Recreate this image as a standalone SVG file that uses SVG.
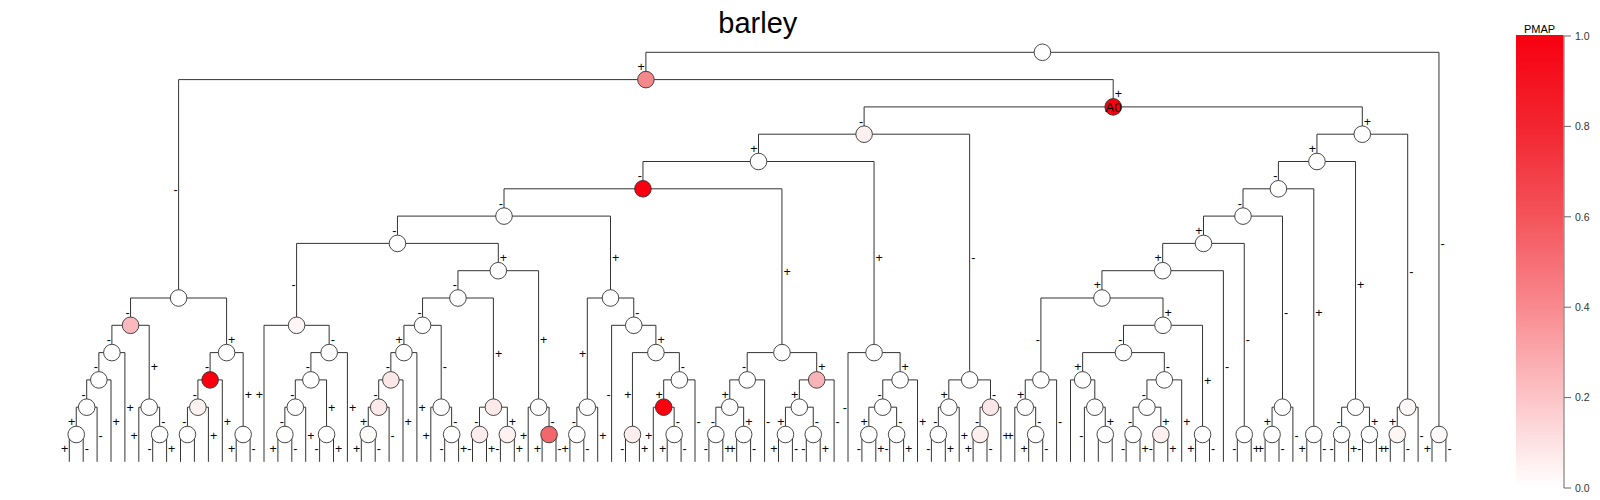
<svg xmlns="http://www.w3.org/2000/svg" width="1600" height="500" viewBox="0 0 1600 500">
<defs>
<linearGradient id="pmap" x1="0" y1="1" x2="0" y2="0">
<stop offset="0" stop-color="#FFFFFF"/>
<stop offset="0.2" stop-color="#FCC3C6"/>
<stop offset="0.4" stop-color="#F8898E"/>
<stop offset="0.6" stop-color="#F4535A"/>
<stop offset="0.8" stop-color="#F22530"/>
<stop offset="1" stop-color="#F80010"/>
</linearGradient>
<style>
.e{fill:none;stroke:#333;stroke-width:1}
circle{stroke:#333;stroke-width:0.9;fill:#FFFFFF}
.lab{opacity:0.99}
.lab text{font-family:"Liberation Sans",Arial,sans-serif;font-size:12.5px;fill:#000}
.l{text-anchor:end}
.r{text-anchor:start}
.red{fill:#F80010}
.ax{stroke:#666;stroke-width:1;fill:none}
.tk{font-family:"Liberation Sans",Arial,sans-serif;font-size:10.5px;fill:#333}
</style>
</defs>
<rect width="1600" height="500" fill="#FFFFFF"/>
<text x="757.8" y="33.3" text-anchor="middle" font-family="Liberation Sans, Arial, sans-serif" font-size="29" fill="#000">barley</text>
<g id="connectors">
<path class="e" d="M645.9 79.6V52.3H1438.95V434.5"/>
<path class="e" d="M178.6 298V79.6H1113.2V106.9"/>
<path class="e" d="M864.1 134.2V106.9H1362.3V134.2"/>
<path class="e" d="M758.5 161.5V134.2H969.65V379.9"/>
<path class="e" d="M642.95 188.8V161.5H874.05V352.6"/>
<path class="e" d="M504 216.1V188.8H781.95V352.6"/>
<path class="e" d="M397.45 243.4V216.1H610.5V298"/>
<path class="e" d="M296.6 325.3V243.4H498.3V270.7"/>
<path class="e" d="M457.95 298V270.7H538.6V407.2"/>
<path class="e" d="M422.55 325.3V298H493.4V407.2"/>
<path class="e" d="M403.9 352.6V325.3H441.2V407.2"/>
<path class="e" d="M390.85 379.9V352.6H416.9V461.8"/>
<path class="e" d="M378.7 407.2V379.9H403V461.8"/>
<path class="e" d="M368.25 434.5V407.2H389.1V461.8"/>
<path class="e" d="M361.3 461.8V434.5H375.2V461.8"/>
<path class="e" d="M430.8 461.8V407.2H451.65V434.5"/>
<path class="e" d="M444.7 461.8V434.5H458.6V461.8"/>
<path class="e" d="M479.5 434.5V407.2H507.35V434.5"/>
<path class="e" d="M472.5 461.8V434.5H486.5V461.8"/>
<path class="e" d="M500.4 461.8V434.5H514.3V461.8"/>
<path class="e" d="M528.2 461.8V407.2H549.05V434.5"/>
<path class="e" d="M542.1 461.8V434.5H556V461.8"/>
<path class="e" d="M264 461.8V325.3H329.15V352.6"/>
<path class="e" d="M310.9 379.9V352.6H347.4V461.8"/>
<path class="e" d="M295.3 407.2V379.9H326.55V434.5"/>
<path class="e" d="M284.85 434.5V407.2H305.7V461.8"/>
<path class="e" d="M277.9 461.8V434.5H291.8V461.8"/>
<path class="e" d="M319.6 461.8V434.5H333.5V461.8"/>
<path class="e" d="M587.3 407.2V298H633.75V325.3"/>
<path class="e" d="M576.85 434.5V407.2H597.7V461.8"/>
<path class="e" d="M569.9 461.8V434.5H583.8V461.8"/>
<path class="e" d="M611.6 461.8V325.3H655.9V352.6"/>
<path class="e" d="M632.45 434.5V352.6H679.35V379.9"/>
<path class="e" d="M625.5 461.8V434.5H639.4V461.8"/>
<path class="e" d="M663.7 407.2V379.9H695V461.8"/>
<path class="e" d="M653.3 461.8V407.2H674.15V434.5"/>
<path class="e" d="M667.2 461.8V434.5H681.1V461.8"/>
<path class="e" d="M747.2 379.9V352.6H816.7V379.9"/>
<path class="e" d="M729.75 407.2V379.9H764.6V461.8"/>
<path class="e" d="M715.85 434.5V407.2H743.65V434.5"/>
<path class="e" d="M708.9 461.8V434.5H722.8V461.8"/>
<path class="e" d="M736.7 461.8V434.5H750.6V461.8"/>
<path class="e" d="M799.35 407.2V379.9H834.1V461.8"/>
<path class="e" d="M785.45 434.5V407.2H813.25V434.5"/>
<path class="e" d="M778.5 461.8V434.5H792.4V461.8"/>
<path class="e" d="M806.3 461.8V434.5H820.2V461.8"/>
<path class="e" d="M848 461.8V352.6H900.1V379.9"/>
<path class="e" d="M882.75 407.2V379.9H917.5V461.8"/>
<path class="e" d="M868.85 434.5V407.2H896.65V434.5"/>
<path class="e" d="M861.9 461.8V434.5H875.8V461.8"/>
<path class="e" d="M889.7 461.8V434.5H903.6V461.8"/>
<path class="e" d="M948.8 407.2V379.9H990.5V407.2"/>
<path class="e" d="M938.35 434.5V407.2H959.2V461.8"/>
<path class="e" d="M931.4 461.8V434.5H945.3V461.8"/>
<path class="e" d="M980.05 434.5V407.2H1000.9V461.8"/>
<path class="e" d="M973.1 461.8V434.5H987V461.8"/>
<path class="e" d="M130.55 325.3V298H226.6V352.6"/>
<path class="e" d="M111.9 352.6V325.3H149.2V407.2"/>
<path class="e" d="M98.85 379.9V352.6H124.9V461.8"/>
<path class="e" d="M86.7 407.2V379.9H111V461.8"/>
<path class="e" d="M76.25 434.5V407.2H97.1V461.8"/>
<path class="e" d="M69.3 461.8V434.5H83.2V461.8"/>
<path class="e" d="M138.8 461.8V407.2H159.65V434.5"/>
<path class="e" d="M152.7 461.8V434.5H166.6V461.8"/>
<path class="e" d="M210.1 379.9V352.6H243.15V434.5"/>
<path class="e" d="M197.9 407.2V379.9H222.3V461.8"/>
<path class="e" d="M187.45 434.5V407.2H208.4V461.8"/>
<path class="e" d="M180.5 461.8V434.5H194.4V461.8"/>
<path class="e" d="M236.2 461.8V434.5H250.1V461.8"/>
<path class="e" d="M1316.95 161.5V134.2H1407.7V407.2"/>
<path class="e" d="M1278.4 188.8V161.5H1355.55V407.2"/>
<path class="e" d="M1243 216.1V188.8H1313.8V434.5"/>
<path class="e" d="M1203.5 243.4V216.1H1282.5V407.2"/>
<path class="e" d="M1162.7 270.7V243.4H1244.25V434.5"/>
<path class="e" d="M1101.95 298V270.7H1223.4V461.8"/>
<path class="e" d="M1040.9 379.9V298H1163V325.3"/>
<path class="e" d="M1025.25 407.2V379.9H1056.6V461.8"/>
<path class="e" d="M1014.8 461.8V407.2H1035.7V434.5"/>
<path class="e" d="M1028.7 461.8V434.5H1042.7V461.8"/>
<path class="e" d="M1123.5 352.6V325.3H1202.55V434.5"/>
<path class="e" d="M1195.6 461.8V434.5H1209.5V461.8"/>
<path class="e" d="M1082.65 379.9V352.6H1164.3V379.9"/>
<path class="e" d="M1070.5 461.8V379.9H1094.8V407.2"/>
<path class="e" d="M1084.4 461.8V407.2H1105.25V434.5"/>
<path class="e" d="M1098.3 461.8V434.5H1112.2V461.8"/>
<path class="e" d="M1146.95 407.2V379.9H1181.7V461.8"/>
<path class="e" d="M1133.05 434.5V407.2H1160.85V434.5"/>
<path class="e" d="M1126.1 461.8V434.5H1140V461.8"/>
<path class="e" d="M1153.9 461.8V434.5H1167.8V461.8"/>
<path class="e" d="M1237.3 461.8V434.5H1251.2V461.8"/>
<path class="e" d="M1272.05 434.5V407.2H1292.9V461.8"/>
<path class="e" d="M1265.1 461.8V434.5H1279V461.8"/>
<path class="e" d="M1306.8 461.8V434.5H1320.8V461.8"/>
<path class="e" d="M1341.65 434.5V407.2H1369.45V434.5"/>
<path class="e" d="M1334.7 461.8V434.5H1348.6V461.8"/>
<path class="e" d="M1362.5 461.8V434.5H1376.4V461.8"/>
<path class="e" d="M1397.25 434.5V407.2H1418.1V461.8"/>
<path class="e" d="M1390.3 461.8V434.5H1404.2V461.8"/>
<path class="e" d="M1432 461.8V434.5H1445.9V461.8"/>
</g>
<g id="edge-labels" class="lab">
<text class="l" x="644.9" y="71">+</text><text class="r" x="1440.45" y="248.4">-</text>
<text class="l" x="177.6" y="193.8">-</text><text class="r" x="1114.7" y="98.3">+</text>
<text class="l" x="863.1" y="125.6">-</text><text class="r" x="1363.8" y="125.6">+</text>
<text class="l" x="757.5" y="152.9">+</text><text class="r" x="971.15" y="262.1">-</text>
<text class="l" x="641.95" y="180.2">-</text><text class="r" x="875.55" y="262.1">+</text>
<text class="l" x="503" y="207.5">-</text><text class="r" x="783.45" y="275.7">+</text>
<text class="l" x="396.45" y="234.8">-</text><text class="r" x="612" y="262.1">+</text>
<text class="l" x="295.6" y="289.4">-</text><text class="r" x="499.8" y="262.1">+</text>
<text class="l" x="456.95" y="289.4">-</text><text class="r" x="540.1" y="344">+</text>
<text class="l" x="421.55" y="316.7">-</text><text class="r" x="494.9" y="357.6">+</text>
<text class="l" x="402.9" y="344">+</text><text class="r" x="442.7" y="371.3">-</text>
<text class="l" x="389.85" y="371.3">-</text><text class="r" x="418.4" y="412.2">+</text>
<text class="l" x="377.7" y="398.6">-</text><text class="r" x="404.5" y="425.9">+</text>
<text class="l" x="367.25" y="425.9">+</text><text class="r" x="390.6" y="439.5">-</text>
<text class="l" x="360.3" y="453.2">+</text><text class="r" x="376.7" y="453.2">-</text>
<text class="l" x="429.8" y="439.5">+</text><text class="r" x="453.15" y="425.9">-</text>
<text class="l" x="443.7" y="453.2">-</text><text class="r" x="460.1" y="453.2">+</text>
<text class="l" x="478.5" y="425.9">-</text><text class="r" x="508.85" y="425.9">+</text>
<text class="l" x="471.5" y="453.2">-</text><text class="r" x="488" y="453.2">+</text>
<text class="l" x="499.4" y="453.2">-</text><text class="r" x="515.8" y="453.2">+</text>
<text class="l" x="527.2" y="439.5">+</text><text class="r" x="550.55" y="425.9">-</text>
<text class="l" x="541.1" y="453.2">+</text><text class="r" x="557.5" y="453.2">-</text>
<text class="l" x="263" y="398.6">+</text><text class="r" x="330.65" y="344">-</text>
<text class="l" x="309.9" y="371.3">-</text><text class="r" x="348.9" y="412.2">+</text>
<text class="l" x="294.3" y="398.6">-</text><text class="r" x="328.05" y="412.2">+</text>
<text class="l" x="283.85" y="425.9">-</text><text class="r" x="307.2" y="439.5">+</text>
<text class="l" x="276.9" y="453.2">+</text><text class="r" x="293.3" y="453.2">-</text>
<text class="l" x="318.6" y="453.2">-</text><text class="r" x="335" y="453.2">+</text>
<text class="l" x="586.3" y="357.6">+</text><text class="r" x="635.25" y="316.7">-</text>
<text class="l" x="575.85" y="425.9">-</text><text class="r" x="599.2" y="439.5">+</text>
<text class="l" x="568.9" y="453.2">+</text><text class="r" x="585.3" y="453.2">-</text>
<text class="l" x="610.6" y="398.6">-</text><text class="r" x="657.4" y="344">+</text>
<text class="l" x="631.45" y="398.6">+</text><text class="r" x="680.85" y="371.3">-</text>
<text class="l" x="624.5" y="453.2">-</text><text class="r" x="640.9" y="453.2">+</text>
<text class="l" x="662.7" y="398.6">+</text><text class="r" x="696.5" y="425.9">-</text>
<text class="l" x="652.3" y="439.5">+</text><text class="r" x="675.65" y="425.9">-</text>
<text class="l" x="666.2" y="453.2">+</text><text class="r" x="682.6" y="453.2">-</text>
<text class="l" x="746.2" y="371.3">-</text><text class="r" x="818.2" y="371.3">+</text>
<text class="l" x="728.75" y="398.6">+</text><text class="r" x="766.1" y="425.9">-</text>
<text class="l" x="714.85" y="425.9">-</text><text class="r" x="745.15" y="425.9">+</text>
<text class="l" x="707.9" y="453.2">-</text><text class="r" x="724.3" y="453.2">+</text>
<text class="l" x="735.7" y="453.2">+</text><text class="r" x="752.1" y="453.2">-</text>
<text class="l" x="798.35" y="398.6">+</text><text class="r" x="835.6" y="425.9">-</text>
<text class="l" x="784.45" y="425.9">+</text><text class="r" x="814.75" y="425.9">-</text>
<text class="l" x="777.5" y="453.2">+</text><text class="r" x="793.9" y="453.2">-</text>
<text class="l" x="805.3" y="453.2">-</text><text class="r" x="821.7" y="453.2">+</text>
<text class="l" x="847" y="412.2">-</text><text class="r" x="901.6" y="371.3">+</text>
<text class="l" x="881.75" y="398.6">-</text><text class="r" x="919" y="425.9">+</text>
<text class="l" x="867.85" y="425.9">+</text><text class="r" x="898.15" y="425.9">-</text>
<text class="l" x="860.9" y="453.2">-</text><text class="r" x="877.3" y="453.2">+</text>
<text class="l" x="888.7" y="453.2">-</text><text class="r" x="905.1" y="453.2">+</text>
<text class="l" x="947.8" y="398.6">+</text><text class="r" x="992" y="398.6">-</text>
<text class="l" x="937.35" y="425.9">-</text><text class="r" x="960.7" y="439.5">+</text>
<text class="l" x="930.4" y="453.2">-</text><text class="r" x="946.8" y="453.2">+</text>
<text class="l" x="979.05" y="425.9">-</text><text class="r" x="1002.4" y="439.5">+</text>
<text class="l" x="972.1" y="453.2">+</text><text class="r" x="988.5" y="453.2">-</text>
<text class="l" x="129.55" y="316.7">-</text><text class="r" x="228.1" y="344">+</text>
<text class="l" x="110.9" y="344">-</text><text class="r" x="150.7" y="371.3">+</text>
<text class="l" x="97.85" y="371.3">-</text><text class="r" x="126.4" y="412.2">+</text>
<text class="l" x="85.7" y="398.6">-</text><text class="r" x="112.5" y="425.9">+</text>
<text class="l" x="75.25" y="425.9">+</text><text class="r" x="98.6" y="439.5">-</text>
<text class="l" x="68.3" y="453.2">+</text><text class="r" x="84.7" y="453.2">-</text>
<text class="l" x="137.8" y="439.5">+</text><text class="r" x="161.15" y="425.9">-</text>
<text class="l" x="151.7" y="453.2">-</text><text class="r" x="168.1" y="453.2">+</text>
<text class="l" x="209.1" y="371.3">-</text><text class="r" x="244.65" y="398.6">+</text>
<text class="l" x="196.9" y="398.6">-</text><text class="r" x="223.8" y="425.9">+</text>
<text class="l" x="186.45" y="425.9">-</text><text class="r" x="209.9" y="439.5">+</text>
<text class="l" x="235.2" y="453.2">+</text><text class="r" x="251.6" y="453.2">-</text>
<text class="l" x="1315.95" y="152.9">+</text><text class="r" x="1409.2" y="275.7">-</text>
<text class="l" x="1277.4" y="180.2">-</text><text class="r" x="1357.05" y="289.4">+</text>
<text class="l" x="1242" y="207.5">-</text><text class="r" x="1315.3" y="316.7">+</text>
<text class="l" x="1202.5" y="234.8">+</text><text class="r" x="1284" y="316.7">-</text>
<text class="l" x="1161.7" y="262.1">+</text><text class="r" x="1245.75" y="344">-</text>
<text class="l" x="1100.95" y="289.4">+</text><text class="r" x="1224.9" y="371.3">-</text>
<text class="l" x="1039.9" y="344">-</text><text class="r" x="1164.5" y="316.7">+</text>
<text class="l" x="1024.25" y="398.6">+</text><text class="r" x="1058.1" y="425.9">-</text>
<text class="l" x="1013.8" y="439.5">+</text><text class="r" x="1037.2" y="425.9">-</text>
<text class="l" x="1027.7" y="453.2">+</text><text class="r" x="1044.2" y="453.2">-</text>
<text class="l" x="1122.5" y="344">-</text><text class="r" x="1204.05" y="384.9">+</text>
<text class="l" x="1194.6" y="453.2">+</text><text class="r" x="1211" y="453.2">-</text>
<text class="l" x="1081.65" y="371.3">+</text><text class="r" x="1165.8" y="371.3">-</text>
<text class="l" x="1083.4" y="439.5">-</text><text class="r" x="1106.75" y="425.9">+</text>
<text class="l" x="1145.95" y="398.6">-</text><text class="r" x="1183.2" y="425.9">+</text>
<text class="l" x="1132.05" y="425.9">-</text><text class="r" x="1162.35" y="425.9">+</text>
<text class="l" x="1125.1" y="453.2">-</text><text class="r" x="1141.5" y="453.2">+</text>
<text class="l" x="1152.9" y="453.2">-</text><text class="r" x="1169.3" y="453.2">+</text>
<text class="l" x="1236.3" y="453.2">-</text><text class="r" x="1252.7" y="453.2">+</text>
<text class="l" x="1271.05" y="425.9">+</text><text class="r" x="1294.4" y="439.5">-</text>
<text class="l" x="1264.1" y="453.2">+</text><text class="r" x="1280.5" y="453.2">-</text>
<text class="l" x="1305.8" y="453.2">+</text><text class="r" x="1322.3" y="453.2">-</text>
<text class="l" x="1340.65" y="425.9">-</text><text class="r" x="1370.95" y="425.9">+</text>
<text class="l" x="1333.7" y="453.2">-</text><text class="r" x="1350.1" y="453.2">+</text>
<text class="l" x="1361.5" y="453.2">-</text><text class="r" x="1377.9" y="453.2">+</text>
<text class="l" x="1396.25" y="425.9">+</text><text class="r" x="1419.6" y="439.5">-</text>
<text class="l" x="1389.3" y="453.2">+</text><text class="r" x="1405.7" y="453.2">-</text>
<text class="l" x="1431" y="453.2">+</text><text class="r" x="1447.4" y="453.2">-</text>
</g>
<g id="nodes">
<g id="n-R"><circle cx="1042.4" cy="52.3" r="8.3"/></g>
<g id="n-A"><circle cx="645.9" cy="79.6" r="8.3" style="fill:#F4898C"/></g>
<g id="n-A0"><circle cx="1113.2" cy="106.9" r="8.3" class="red"/><text x="1113.4" y="112.3" text-anchor="middle" font-family="Liberation Sans, Arial, sans-serif" font-size="13.5" fill="#000">A0</text></g>
<g id="n-E4"><circle cx="864.1" cy="134.2" r="8.3" style="fill:#FCEFEF"/></g>
<g id="n-E5"><circle cx="758.5" cy="161.5" r="8.3"/></g>
<g id="n-E6"><circle cx="642.95" cy="188.8" r="8.3" class="red"/></g>
<g id="n-E7"><circle cx="504" cy="216.1" r="8.3"/></g>
<g id="n-E8"><circle cx="397.45" cy="243.4" r="8.3"/></g>
<g id="n-D9"><circle cx="498.3" cy="270.7" r="8.3"/></g>
<g id="n-D7"><circle cx="457.95" cy="298" r="8.3"/></g>
<g id="n-D5"><circle cx="422.55" cy="325.3" r="8.3"/></g>
<g id="n-D3"><circle cx="403.9" cy="352.6" r="8.3"/></g>
<g id="n-D2"><circle cx="390.85" cy="379.9" r="8.3" style="fill:#FCE7E8"/></g>
<g id="n-D1"><circle cx="378.7" cy="407.2" r="8.3" style="fill:#FCEAEB"/></g>
<g id="n-c2122"><circle cx="368.25" cy="434.5" r="8.3" style="fill:#FEFBFB"/></g>
<g id="n-D4"><circle cx="441.2" cy="407.2" r="8.3"/></g>
<g id="n-c2728"><circle cx="451.65" cy="434.5" r="8.3"/></g>
<g id="n-D6"><circle cx="493.4" cy="407.2" r="8.3" style="fill:#FCEAEB"/></g>
<g id="n-c2930"><circle cx="479.5" cy="434.5" r="8.3" style="fill:#FCECEC"/></g>
<g id="n-c3132"><circle cx="507.35" cy="434.5" r="8.3" style="fill:#FDF1F1"/></g>
<g id="n-D8"><circle cx="538.6" cy="407.2" r="8.3"/></g>
<g id="n-c3435"><circle cx="549.05" cy="434.5" r="8.3" style="fill:#F2676B"/></g>
<g id="n-C1"><circle cx="296.6" cy="325.3" r="8.3" style="fill:#FEF6F6"/></g>
<g id="n-C12"><circle cx="329.15" cy="352.6" r="8.3"/></g>
<g id="n-C121"><circle cx="310.9" cy="379.9" r="8.3"/></g>
<g id="n-C1211"><circle cx="295.3" cy="407.2" r="8.3"/></g>
<g id="n-c1516"><circle cx="284.85" cy="434.5" r="8.3"/></g>
<g id="n-C1212"><circle cx="326.55" cy="434.5" r="8.3"/></g>
<g id="n-F6"><circle cx="610.5" cy="298" r="8.3"/></g>
<g id="n-F1"><circle cx="587.3" cy="407.2" r="8.3"/></g>
<g id="n-c3637"><circle cx="576.85" cy="434.5" r="8.3"/></g>
<g id="n-F5"><circle cx="633.75" cy="325.3" r="8.3"/></g>
<g id="n-F4"><circle cx="655.9" cy="352.6" r="8.3"/></g>
<g id="n-c4041"><circle cx="632.45" cy="434.5" r="8.3" style="fill:#FCEEEE"/></g>
<g id="n-F3"><circle cx="679.35" cy="379.9" r="8.3"/></g>
<g id="n-F2"><circle cx="663.7" cy="407.2" r="8.3" class="red"/></g>
<g id="n-c4344"><circle cx="674.15" cy="434.5" r="8.3"/></g>
<g id="n-G5"><circle cx="781.95" cy="352.6" r="8.3"/></g>
<g id="n-G2"><circle cx="747.2" cy="379.9" r="8.3"/></g>
<g id="n-G1"><circle cx="729.75" cy="407.2" r="8.3"/></g>
<g id="n-c4647"><circle cx="715.85" cy="434.5" r="8.3"/></g>
<g id="n-c4849"><circle cx="743.65" cy="434.5" r="8.3"/></g>
<g id="n-G4"><circle cx="816.7" cy="379.9" r="8.3" style="fill:#F8B3B7"/></g>
<g id="n-G3"><circle cx="799.35" cy="407.2" r="8.3"/></g>
<g id="n-c5152"><circle cx="785.45" cy="434.5" r="8.3"/></g>
<g id="n-c5354"><circle cx="813.25" cy="434.5" r="8.3"/></g>
<g id="n-H3"><circle cx="874.05" cy="352.6" r="8.3"/></g>
<g id="n-H2"><circle cx="900.1" cy="379.9" r="8.3"/></g>
<g id="n-H1"><circle cx="882.75" cy="407.2" r="8.3"/></g>
<g id="n-c5758"><circle cx="868.85" cy="434.5" r="8.3"/></g>
<g id="n-c5960"><circle cx="896.65" cy="434.5" r="8.3"/></g>
<g id="n-I3"><circle cx="969.65" cy="379.9" r="8.3"/></g>
<g id="n-I1"><circle cx="948.8" cy="407.2" r="8.3"/></g>
<g id="n-c6263"><circle cx="938.35" cy="434.5" r="8.3"/></g>
<g id="n-I2"><circle cx="990.5" cy="407.2" r="8.3" style="fill:#FCE6E8"/></g>
<g id="n-c6566"><circle cx="980.05" cy="434.5" r="8.3" style="fill:#FDEFEF"/></g>
<g id="n-B"><circle cx="178.6" cy="298" r="8.3"/></g>
<g id="n-B1"><circle cx="130.55" cy="325.3" r="8.3" style="fill:#FBB8BE"/></g>
<g id="n-B11"><circle cx="111.9" cy="352.6" r="8.3"/></g>
<g id="n-nb"><circle cx="98.85" cy="379.9" r="8.3"/></g>
<g id="n-na"><circle cx="86.7" cy="407.2" r="8.3"/></g>
<g id="n-c01"><circle cx="76.25" cy="434.5" r="8.3"/></g>
<g id="n-B12"><circle cx="149.2" cy="407.2" r="8.3"/></g>
<g id="n-c67"><circle cx="159.65" cy="434.5" r="8.3"/></g>
<g id="n-B2"><circle cx="226.6" cy="352.6" r="8.3"/></g>
<g id="n-B21"><circle cx="210.1" cy="379.9" r="8.3" class="red"/></g>
<g id="n-B211"><circle cx="197.9" cy="407.2" r="8.3" style="fill:#FDF2F2"/></g>
<g id="n-c89"><circle cx="187.45" cy="434.5" r="8.3"/></g>
<g id="n-B22"><circle cx="243.15" cy="434.5" r="8.3"/></g>
<g id="n-J18"><circle cx="1362.3" cy="134.2" r="8.3"/></g>
<g id="n-J16"><circle cx="1316.95" cy="161.5" r="8.3"/></g>
<g id="n-J14"><circle cx="1278.4" cy="188.8" r="8.3"/></g>
<g id="n-J13"><circle cx="1243" cy="216.1" r="8.3"/></g>
<g id="n-J11"><circle cx="1203.5" cy="243.4" r="8.3"/></g>
<g id="n-J10"><circle cx="1162.7" cy="270.7" r="8.3"/></g>
<g id="n-J9"><circle cx="1101.95" cy="298" r="8.3"/></g>
<g id="n-J2"><circle cx="1040.9" cy="379.9" r="8.3"/></g>
<g id="n-J1"><circle cx="1025.25" cy="407.2" r="8.3"/></g>
<g id="n-c6970"><circle cx="1035.7" cy="434.5" r="8.3"/></g>
<g id="n-J8"><circle cx="1163" cy="325.3" r="8.3"/></g>
<g id="n-c8182"><circle cx="1202.55" cy="434.5" r="8.3"/></g>
<g id="n-J7"><circle cx="1123.5" cy="352.6" r="8.3"/></g>
<g id="n-J4"><circle cx="1082.65" cy="379.9" r="8.3"/></g>
<g id="n-J3"><circle cx="1094.8" cy="407.2" r="8.3"/></g>
<g id="n-c7475"><circle cx="1105.25" cy="434.5" r="8.3"/></g>
<g id="n-J6"><circle cx="1164.3" cy="379.9" r="8.3"/></g>
<g id="n-J5"><circle cx="1146.95" cy="407.2" r="8.3"/></g>
<g id="n-c7677"><circle cx="1133.05" cy="434.5" r="8.3"/></g>
<g id="n-c7879"><circle cx="1160.85" cy="434.5" r="8.3" style="fill:#FDF0F1"/></g>
<g id="n-c8485"><circle cx="1244.25" cy="434.5" r="8.3"/></g>
<g id="n-J12"><circle cx="1282.5" cy="407.2" r="8.3"/></g>
<g id="n-c8687"><circle cx="1272.05" cy="434.5" r="8.3"/></g>
<g id="n-c8990"><circle cx="1313.8" cy="434.5" r="8.3"/></g>
<g id="n-J15"><circle cx="1355.55" cy="407.2" r="8.3"/></g>
<g id="n-c9192"><circle cx="1341.65" cy="434.5" r="8.3"/></g>
<g id="n-c9394"><circle cx="1369.45" cy="434.5" r="8.3"/></g>
<g id="n-J17"><circle cx="1407.7" cy="407.2" r="8.3" style="fill:#FEF7F7"/></g>
<g id="n-c9596"><circle cx="1397.25" cy="434.5" r="8.3" style="fill:#FEF5F5"/></g>
<g id="n-c9899"><circle cx="1438.95" cy="434.5" r="8.3" style="fill:#FEF7F7"/></g>
</g>
<g id="colorbar">
<text x="1539.5" y="33" text-anchor="middle" font-family="Liberation Sans, Arial, sans-serif" font-size="11" fill="#000">PMAP</text>
<rect x="1516" y="35" width="47.5" height="452" fill="url(#pmap)"/>
<path class="ax" d="M1564 36V488M1564 36H1571M1564 126.4H1571M1564 216.8H1571M1564 307.2H1571M1564 397.6H1571M1564 488H1571"/>
<text class="tk" x="1575" y="39.8">1.0</text>
<text class="tk" x="1575" y="130.2">0.8</text>
<text class="tk" x="1575" y="220.6">0.6</text>
<text class="tk" x="1575" y="311">0.4</text>
<text class="tk" x="1575" y="401.4">0.2</text>
<text class="tk" x="1575" y="491.8">0.0</text>
</g>
</svg>
